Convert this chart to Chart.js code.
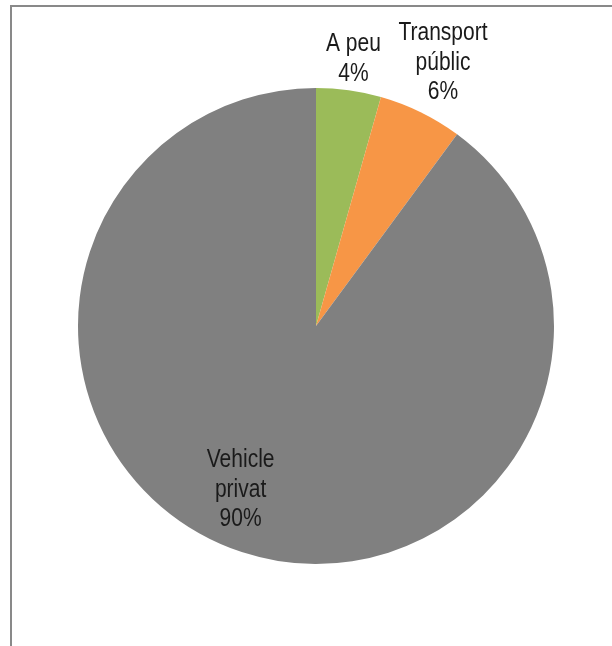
<!DOCTYPE html>
<html>
<head>
<meta charset="utf-8">
<script src="https://cdn.jsdelivr.net/npm/chart.js@4.4.0/dist/chart.umd.min.js"></script>
<style>
  html, body { margin: 0; padding: 0; background: #fff; }
  #wrap { position: relative; width: 612px; height: 646px; overflow: hidden; }
  #frame { position: absolute; left: 10px; top: 5px; width: 620px; height: 660px;
           border-left: 2px solid #898989; border-top: 2px solid #898989; }
  canvas { position: absolute; left: 0; top: 0; }
</style>
</head>
<body>
<div id="wrap">
  <div id="frame"></div>
  <canvas id="chart" width="612" height="646"></canvas>
</div>
<script>
// -- data
const categories = ["A peu", "Transport públic", "Vehicle privat"];
const labelLines = [["A peu"], ["Transport", "públic"], ["Vehicle", "privat"]];
const shares = [4.4, 5.7, 89.9];

// -- styles
const colors = ["#9bbb59", "#f79646", "#808080"];
// label placement: radius factor and angle shift (degrees) per slice
const labelRadius = [1.14, 1.235, 0.75];
const labelShift = [0, -0.5, 6.8];

const FONT = "'Liberation Sans Narrow', 'Arial Narrow', 'Liberation Sans', Arial, sans-serif";
const FONT_PX = 25;
const X_SQUEEZE = 0.84; // fake the narrow face
const LINE_H = 29.5;

const pieLabels = {
  id: "pieLabels",
  afterDatasetsDraw(chart) {
    const ctx = chart.ctx;
    const meta = chart.getDatasetMeta(0);
    const total = shares.reduce((a, b) => a + b, 0);
    ctx.save();
    ctx.font = FONT_PX + "px " + FONT;
    ctx.fillStyle = "#1a1a1a";
    ctx.textAlign = "center";
    ctx.textBaseline = "alphabetic";
    meta.data.forEach((arc, i) => {
      const mid = (arc.startAngle + arc.endAngle) / 2 + labelShift[i] * Math.PI / 180;
      const r = arc.outerRadius * labelRadius[i];
      const x = arc.x + Math.cos(mid) * r;
      const y = arc.y + Math.sin(mid) * r;
      const lines = labelLines[i].concat([Math.round(shares[i] / total * 100) + "%"]);
      const capHalf = FONT_PX * 0.716 / 2;
      lines.forEach((t, k) => {
        const by = y + (k - (lines.length - 1) / 2) * LINE_H + capHalf;
        ctx.save();
        ctx.translate(x, by);
        ctx.scale(X_SQUEEZE, 1);
        ctx.fillText(t, 0, 0);
        ctx.restore();
      });
    });
    ctx.restore();
  },
};

new Chart(document.getElementById("chart").getContext("2d"), {
  type: "pie",
  data: {
    labels: categories,
    datasets: [{
      data: shares,
      backgroundColor: colors,
      borderWidth: 0,
    }],
  },
  options: {
    responsive: false,
    animation: false,
    layout: { padding: { left: 78, right: 58, top: 88, bottom: 82 } },
    plugins: {
      legend: { display: false },
      tooltip: { enabled: false },
    },
  },
  plugins: [pieLabels],
});
</script>
</body>
</html>
